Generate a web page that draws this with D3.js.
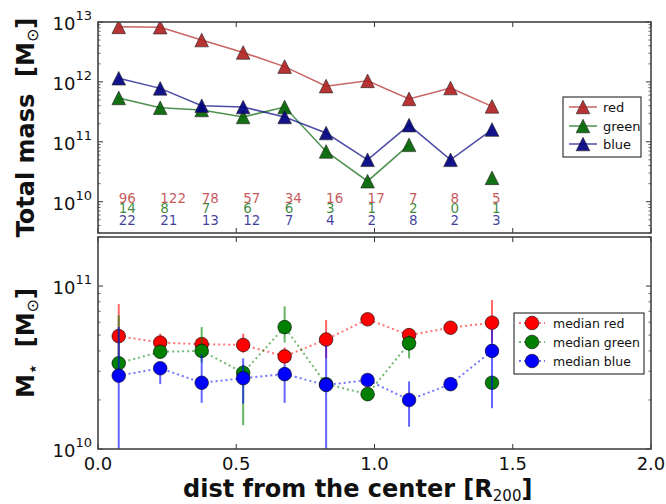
<!DOCTYPE html>
<html><head><meta charset="utf-8">
<script src="https://cdn.jsdelivr.net/npm/d3@7"></script>
<style>html,body{margin:0;padding:0;background:#fff;}svg{display:block;font-family:"DejaVu Sans",sans-serif;}</style>
</head><body>
<script>
const xs = [0.075,0.225,0.375,0.525,0.675,0.825,0.975,1.125,1.275,1.425];
const massRed   = [8.3e12,8.2e12,5.0e12,3.1e12,1.8e12,8.5e11,1.04e12,5.2e11,7.9e11,3.9e11];
const massGreen = [5.4e11,3.7e11,3.4e11,2.6e11,3.8e11,6.9e10,2.2e10,8.9e10,null,2.5e10];
const massBlue  = [1.15e12,7.8e11,4.0e11,3.8e11,2.6e11,1.4e11,5.0e10,1.9e11,5.0e10,1.6e11];
const nRed   = [96,122,78,57,34,16,17,7,8,5];
const nGreen = [14,8,7,6,6,3,1,2,0,1];
const nBlue  = [22,21,13,12,7,4,2,8,2,3];
const medRed   = [4.93e10,4.5e10,4.4e10,4.35e10,3.7e10,4.7e10,6.25e10,5.0e10,5.55e10,5.96e10];
const medGreen = [3.36e10,3.95e10,4.0e10,2.94e10,5.6e10,2.5e10,2.17e10,4.45e10,null,2.55e10];
const medBlue  = [2.82e10,3.13e10,2.55e10,2.72e10,2.88e10,2.47e10,2.65e10,2.0e10,2.5e10,4.0e10];
const errRedLo   = [3.7e10,4.1e10,4.1e10,3.9e10,3.3e10,3.6e10,null,null,null,4.5e10];
const errRedHi   = [7.75e10,5.1e10,4.8e10,5.1e10,4.2e10,6.2e10,null,null,null,8.2e10];
const errGreenLo = [2.9e10,3.6e10,3.4e10,1.4e10,4.5e10,null,null,3.6e10,null,2.4e10];
const errGreenHi = [6.6e10,4.3e10,5.6e10,3.3e10,7.5e10,null,null,5.0e10,null,2.7e10];
const errBlueLo  = [5e9,2.5e10,1.92e10,1.9e10,1.92e10,5e9,null,1.37e10,null,1.78e10];
const errBlueHi  = [5.6e10,3.4e10,3.8e10,3.6e10,3.3e10,4.3e10,null,2.6e10,null,5.4e10];
const xTicks = [0,0.5,1.0,1.5,2.0];
const xTickLabels = ["0.0","0.5","1.0","1.5","2.0"];
const topLegend = ["red","green","blue"];
const botLegend = ["median red","median green","median blue"];

const W=666,H=504;
const L=98,R=651,T1=22,B1=233,T2=237,B2=449;
const svg=d3.select("body").append("svg").attr("width",W).attr("height",H);
const x=d3.scaleLinear().domain([0,2]).range([L,R]);
const y1=d3.scaleLog().domain([3e9,1e13]).range([B1,T1]);
const y2=d3.scaleLog().domain([1e10,2e11]).range([B2,T2]);

const defs=svg.append("defs");
defs.append("clipPath").attr("id","c1").append("rect").attr("x",L).attr("y",T1).attr("width",R-L).attr("height",B1-T1);
defs.append("clipPath").attr("id","c2").append("rect").attr("x",L).attr("y",T2).attr("width",R-L).attr("height",B2-T2);

const tri = h => `M0,${-h}L${-h},${h}L${h},${h}Z`;

// ---------- top panel ----------
const topSeries=[
  {vals:massRed,fill:"#b22222",line:"#b22222"},
  {vals:massGreen,fill:"#006400",line:"#006400"},
  {vals:massBlue,fill:"#000080",line:"#000080"}];
const gTop=svg.append("g").attr("clip-path","url(#c1)");
topSeries.forEach(s=>{
  const data=xs.map((d,i)=>({x:d,y:s.vals[i]}));
  gTop.append("path").datum(data)
    .attr("d",d3.line().defined(d=>d.y!=null).x(d=>x(d.x)).y(d=>y1(d.y)))
    .attr("fill","none").attr("stroke",s.line).attr("stroke-opacity",0.7).attr("stroke-width",1.5);
  gTop.selectAll(null).data(data.filter(d=>d.y!=null)).enter().append("path")
    .attr("d",tri(6.8)).attr("transform",d=>`translate(${x(d.x)},${y1(d.y)})`)
    .attr("fill",s.fill).attr("fill-opacity",0.92).attr("stroke","#222").attr("stroke-opacity",0.6).attr("stroke-width",1);
});
// counts
[[nRed,"#b22222",9.5e9],[nGreen,"#006400",6.4e9],[nBlue,"#000080",4.1e9]].forEach(([arr,c,yy])=>{
  svg.selectAll(null).data(arr).enter().append("text")
    .attr("x",(d,i)=>x(xs[i])).attr("y",y1(yy))
    .attr("fill",c).attr("fill-opacity",0.75).attr("font-size",13.5).text(d=>d);
});

// ---------- bottom panel ----------
const botSeries=[
  {vals:medRed,lo:errRedLo,hi:errRedHi,c:"#ff0000"},
  {vals:medGreen,lo:errGreenLo,hi:errGreenHi,c:"#008000"},
  {vals:medBlue,lo:errBlueLo,hi:errBlueHi,c:"#0000ff"}];
const gBot=svg.append("g").attr("clip-path","url(#c2)");
botSeries.forEach(s=>{
  const data=xs.map((d,i)=>({x:d,y:s.vals[i],lo:s.lo[i],hi:s.hi[i]}));
  gBot.selectAll(null).data(data.filter(d=>d.lo!=null)).enter().append("line")
    .attr("x1",d=>x(d.x)).attr("x2",d=>x(d.x)).attr("y1",d=>y2(d.lo)).attr("y2",d=>y2(d.hi))
    .attr("stroke",s.c).attr("stroke-opacity",0.6).attr("stroke-width",2);
  gBot.append("path").datum(data)
    .attr("d",d3.line().defined(d=>d.y!=null).x(d=>x(d.x)).y(d=>y2(d.y)))
    .attr("fill","none").attr("stroke",s.c).attr("stroke-opacity",0.55).attr("stroke-width",2).attr("stroke-dasharray","2,3");
  gBot.selectAll(null).data(data.filter(d=>d.y!=null)).enter().append("circle")
    .attr("cx",d=>x(d.x)).attr("cy",d=>y2(d.y)).attr("r",6.8)
    .attr("fill",s.c).attr("stroke","#000").attr("stroke-opacity",0.6).attr("stroke-width",1);
});

// ---------- axes / frames ----------
function frame(T,B,y,majors,minors){
  const g=svg.append("g");
  const tk="#333";
  xTicks.forEach(v=>{
    g.append("line").attr("x1",x(v)).attr("x2",x(v)).attr("y1",B).attr("y2",B-5).attr("stroke",tk);
    g.append("line").attr("x1",x(v)).attr("x2",x(v)).attr("y1",T).attr("y2",T+5).attr("stroke",tk);
  });
  majors.forEach(v=>{
    g.append("line").attr("x1",L).attr("x2",L+5).attr("y1",y(v)).attr("y2",y(v)).attr("stroke",tk);
    g.append("line").attr("x1",R).attr("x2",R-5).attr("y1",y(v)).attr("y2",y(v)).attr("stroke",tk);
  });
  minors.forEach(v=>{
    g.append("line").attr("x1",L).attr("x2",L+2.5).attr("y1",y(v)).attr("y2",y(v)).attr("stroke",tk).attr("stroke-width",0.8);
    g.append("line").attr("x1",R).attr("x2",R-2.5).attr("y1",y(v)).attr("y2",y(v)).attr("stroke",tk).attr("stroke-width",0.8);
  });
  g.append("rect").attr("x",L).attr("y",T).attr("width",R-L).attr("height",B-T)
    .attr("fill","none").attr("stroke","#444").attr("stroke-width",1.6);
  majors.forEach(v=>{
    const e=Math.round(Math.log10(v));
    const t=svg.append("text").attr("x",L-6).attr("y",y(v)+8).attr("text-anchor","end").attr("font-size",18).attr("fill","#111");
    t.append("tspan").text("10");
    t.append("tspan").attr("dy",-10).attr("font-size",13).text(e);
  });
}
function minorTicks(lo,hi){
  const out=[];
  for(let k=Math.floor(Math.log10(lo));k<=Math.ceil(Math.log10(hi));k++){
    for(let m=2;m<=9;m++){const v=m*Math.pow(10,k); if(v>=lo*0.999&&v<=hi*1.001) out.push(v);}
  }
  return out;
}
frame(T1,B1,y1,[1e10,1e11,1e12,1e13],minorTicks(3e9,1e13));
frame(T2,B2,y2,[1e10,1e11],minorTicks(1e10,2e11));

// x tick labels
svg.selectAll(null).data(xTicks).enter().append("text")
  .attr("x",d=>x(d)).attr("y",470).attr("text-anchor","middle").attr("font-size",18).attr("fill","#111")
  .text((d,i)=>xTickLabels[i]);

// axis labels
const xl=svg.append("text").attr("x",183).attr("y",497).attr("font-size",24).attr("font-weight","bold").attr("fill","#111");
xl.append("tspan").text("dist from the center [R");
xl.append("tspan").attr("dy",4).attr("font-size",15).attr("font-weight","normal").text("200");
xl.append("tspan").attr("dy",-4).text("]");

function ylab(cy,parts){
  const t=svg.append("text").attr("transform",`translate(34,${cy}) rotate(-90)`).attr("text-anchor","middle")
    .attr("font-size",24).attr("font-weight","bold").attr("fill","#111");
  parts.forEach(p=>{const s=t.append("tspan").text(p.t); if(p.dy) s.attr("dy",p.dy); if(p.fs) s.attr("font-size",p.fs).attr("font-weight",p.fw||"bold");});
}
ylab((T1+B1)/2,[{t:"Total mass\u00A0\u00A0[M"},{t:"\u2299",dy:4,fs:16,fw:"normal"},{t:"]",dy:-4}]);
ylab((T2+B2)/2,[{t:"M"},{t:"\u22C6",dy:4,fs:16},{t:"\u00A0\u00A0[M",dy:-4},{t:"\u2299",dy:4,fs:16,fw:"normal"},{t:"]",dy:-4}]);

// ---------- legends ----------
const lg1=svg.append("g");
lg1.append("rect").attr("x",563).attr("y",97).attr("width",78).attr("height",60).attr("fill","#fff").attr("stroke","#111").attr("stroke-width",1);
const ly1=[107,126,144];
topLegend.forEach((name,i)=>{
  const s=topSeries[i];
  lg1.append("line").attr("x1",569).attr("x2",597).attr("y1",ly1[i]).attr("y2",ly1[i]).attr("stroke",s.line).attr("stroke-opacity",0.7).attr("stroke-width",1.5);
  lg1.append("path").attr("d",tri(6.8)).attr("transform",`translate(583,${ly1[i]})`).attr("fill",s.fill).attr("fill-opacity",0.92).attr("stroke","#222").attr("stroke-opacity",0.6);
  lg1.append("text").attr("x",603).attr("y",ly1[i]+5).attr("font-size",13).attr("fill","#111").text(name);
});
const lg2=svg.append("g");
lg2.append("rect").attr("x",514).attr("y",313).attr("width",130).attr("height",61).attr("fill","#fff").attr("stroke","#111").attr("stroke-width",1);
const ly2=[323,342,361];
botLegend.forEach((name,i)=>{
  const s=botSeries[i];
  lg2.append("line").attr("x1",519).attr("x2",545).attr("y1",ly2[i]).attr("y2",ly2[i]).attr("stroke",s.c).attr("stroke-opacity",0.55).attr("stroke-width",2).attr("stroke-dasharray","2,3");
  lg2.append("circle").attr("cx",532).attr("cy",ly2[i]).attr("r",6.8).attr("fill",s.c).attr("stroke","#000").attr("stroke-opacity",0.6);
  lg2.append("text").attr("x",553).attr("y",ly2[i]+5).attr("font-size",12.5).attr("fill","#111").text(name);
});
</script>
</body></html>
